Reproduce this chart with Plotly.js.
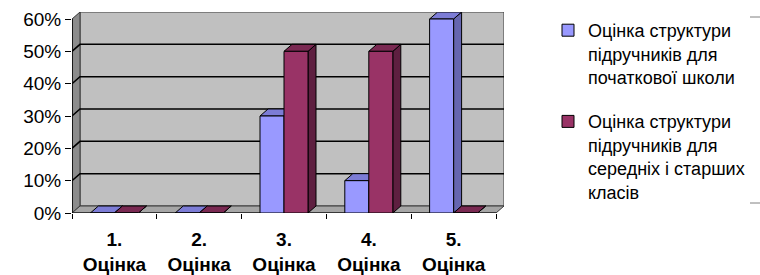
<!DOCTYPE html>
<html>
<head>
<meta charset="utf-8">
<script src="https://cdn.plot.ly/plotly-3.0.1.min.js"></script>
<style>html,body{margin:0;padding:0;background:#fff;}#chart{width:760px;height:275px;}</style>
</head>
<body>
<div id="chart"></div>
<script>
// ---- data ----
const categories = ["1.<br>Оцінка", "2.<br>Оцінка", "3.<br>Оцінка", "4.<br>Оцінка", "5.<br>Оцінка"];
const seriesNames = [
  "Оцінка структури<br>підручників для<br>початкової школи",
  "Оцінка структури<br>підручників для<br>середніх і старших<br>класів"
];
const primarySchool = [0, 0, 0.30, 0.10, 0.60];
const secondarySchool = [0, 0, 0.50, 0.50, 0];
const yTickValues = [0, 0.1, 0.2, 0.3, 0.4, 0.5, 0.6];

// ---- layout geometry ----
const W = 760, H = 275;
const M = {l: 72, r: 256, t: 12, b: 62};
const DEPTH_X = 8, DEPTH_Y = 7, BAR_PX = 24;
const nCat = categories.length;
const yMax = yTickValues[yTickValues.length - 1];
const plotW = W - M.l - M.r, plotH = H - M.t - M.b;
const xUnitPx = (plotW - DEPTH_X) / nCat;
const yUnitPx = (plotH - DEPTH_Y) / yMax;
const dx = DEPTH_X / xUnitPx, dy = DEPTH_Y / yUnitPx;
const bw = BAR_PX / xUnitPx;
const x0 = -0.5, x1 = nCat - 0.5;

const series = [
  {name: seriesNames[0], y: primarySchool, offset: -bw, front: '#9999FF', top: '#7C7CD6', side: '#6666B0'},
  {name: seriesNames[1], y: secondarySchool, offset: 0, front: '#993366', top: '#7A2952', side: '#5E1F40'}
];

const traces = series.map((s, i) => ({
  type: 'bar', x: categories, y: s.y, name: s.name,
  width: bw, offset: s.offset,
  marker: {color: s.front, line: {color: '#000', width: 1}},
  legendgroup: 'g' + i, hoverinfo: 'skip'
}));

const P = (pts) => 'M' + pts.map(p => p[0] + ',' + p[1]).join(' L') + ' Z';
const shapes = [];
// walls
shapes.push({type: 'path', layer: 'below', xref: 'x', yref: 'y',
  path: P([[x0 + dx, dy], [x1 + dx, dy], [x1 + dx, yMax + dy], [x0 + dx, yMax + dy]]),
  fillcolor: '#C0C0C0', line: {color: '#3a3a3a', width: 1}});
shapes.push({type: 'path', layer: 'below', xref: 'x', yref: 'y',
  path: P([[x0, 0], [x0 + dx, dy], [x0 + dx, yMax + dy], [x0, yMax]]),
  fillcolor: '#8C8C8C', line: {color: '#3a3a3a', width: 1}});
shapes.push({type: 'path', layer: 'below', xref: 'x', yref: 'y',
  path: P([[x0, 0], [x1, 0], [x1 + dx, dy], [x0 + dx, dy]]),
  fillcolor: '#A6A6A6', line: {color: '#3a3a3a', width: 1}});
// gridlines on walls
yTickValues.slice(1, -1).forEach(v => {
  shapes.push({type: 'path', layer: 'below', xref: 'x', yref: 'y',
    path: 'M' + x0 + ',' + v + ' L' + (x0 + dx) + ',' + (v + dy) + ' L' + (x1 + dx) + ',' + (v + dy),
    line: {color: '#000', width: 1.5}});
});
// front axis edges
shapes.push({type: 'line', layer: 'below', xref: 'x', yref: 'y', x0: x0, x1: x0, y0: 0, y1: yMax, line: {color: '#000', width: 1.5}});
shapes.push({type: 'line', layer: 'below', xref: 'x', yref: 'y', x0: x0, x1: x1, y0: 0, y1: 0, line: {color: '#000', width: 1}});
// bar 3D faces
series.forEach(s => {
  s.y.forEach((v, i) => {
    const a = i + s.offset, b = a + bw;
    shapes.push({type: 'path', layer: 'between', xref: 'x', yref: 'y',
      path: P([[b, 0], [b + dx, dy], [b + dx, v + dy], [b, v]]),
      fillcolor: s.side, line: {color: '#000', width: 1}});
    shapes.push({type: 'path', layer: 'between', xref: 'x', yref: 'y',
      path: P([[a, v], [b, v], [b + dx, v + dy], [a + dx, v + dy]]),
      fillcolor: s.top, line: {color: '#000', width: 1}});
  });
});
// legend frame (pixel positions converted to paper fractions)
const px2paperX = (px) => (px - M.l) / plotW;
const px2paperY = (py) => (H - M.b - py) / plotH;
shapes.push({type: 'rect', layer: 'below', xref: 'paper', yref: 'paper',
  x0: px2paperX(563), x1: px2paperX(790), y0: px2paperY(203), y1: px2paperY(17),
  fillcolor: '#fff', line: {color: '#808080', width: 1}});

const FONT = 'Liberation Sans';
const layout = {
  width: W, height: H,
  margin: M,
  paper_bgcolor: '#fff', plot_bgcolor: 'rgba(0,0,0,0)',
  showlegend: true,
  barmode: 'overlay',
  hovermode: false,
  font: {family: FONT, color: '#000'},
  xaxis: {
    type: 'category', range: [x0, x1 + dx], showgrid: false, zeroline: false, showline: false,
    tickson: 'boundaries', ticks: 'outside', ticklen: 5, tickcolor: '#000', tickwidth: 1,
    tickfont: {family: FONT, size: 19, color: '#000', weight: 'bold'},
    ticklabelstandoff: 13,
    fixedrange: true
  },
  yaxis: {
    range: [0, yMax + dy], tickvals: yTickValues, tickformat: '.0%',
    showgrid: false, zeroline: false, showline: false,
    ticks: 'outside', ticklen: 6, tickcolor: '#000', tickwidth: 1,
    tickfont: {family: FONT, size: 19, color: '#000'},
    fixedrange: true
  },
  legend: {
    xref: 'container', yref: 'container', x: 548 / W, y: 1 - 12 / H, xanchor: 'left', yanchor: 'top',
    font: {family: FONT, size: 18, color: '#000'},
    traceorder: 'grouped', tracegroupgap: 18, valign: 'top', maxheight: 270,
    itemclick: false, itemdoubleclick: false
  },
  shapes: shapes
};

Plotly.newPlot('chart', traces, layout, {displayModeBar: false});
</script>
</body>
</html>
